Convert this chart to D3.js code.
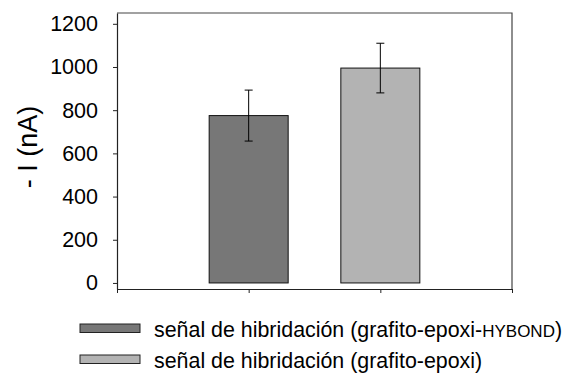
<!DOCTYPE html>
<html>
<head>
<meta charset="utf-8">
<script src="https://cdn.jsdelivr.net/npm/d3@7"></script>
<style>
  html, body { margin: 0; padding: 0; background: #fff; }
  svg { display: block; font-family: "Liberation Sans", Arial, sans-serif; }
</style>
</head>
<body>
<svg id="chart" width="570" height="373"></svg>
<script>
// Hybridisation signal, mean current with standard deviation
const categories = ["grafito-epoxi-HYBOND", "grafito-epoxi"];
const values = [775, 995];
const errors = [118, 115];
const yTicks = [0, 200, 400, 600, 800, 1000, 1200];
const legendMain = ["señal de hibridación (grafito-epoxi-", "señal de hibridación (grafito-epoxi)"];
const legendSmall = ["HYBOND", ""];
const legendTail = [")", ""];
const colors = ["#777777", "#b3b3b3"];

const svg = d3.select("#chart");
const margin = { left: 117, top: 13, right: 58, bottom: 84 };
const W = 570 - margin.left - margin.right;
const H = 373 - margin.top - margin.bottom;
const FONT = "'Liberation Sans', Arial, sans-serif";

const x = d3.scaleLinear().domain([0, categories.length + 1]).range([0, W]);
const y = d3.scaleLinear().domain([-28, 1250]).range([H, 0]);

const g = svg.append("g").attr("transform", `translate(${margin.left},${margin.top})`);

// bars
const barW = x(0.6) - x(0);
g.selectAll("rect.bar").data(values).join("rect")
  .attr("class", "bar")
  .attr("x", (d, i) => x(i + 1) - barW / 2)
  .attr("y", d => y(d))
  .attr("width", barW)
  .attr("height", d => y(0) - y(d))
  .attr("fill", (d, i) => colors[i])
  .attr("stroke", "#111")
  .attr("stroke-width", 1);

// error bars
const cap = 4;
const eb = g.selectAll("g.err").data(values).join("g").attr("class", "err")
  .attr("stroke", "#000").attr("stroke-width", 1);
eb.append("line")
  .attr("x1", (d, i) => x(i + 1)).attr("x2", (d, i) => x(i + 1))
  .attr("y1", (d, i) => y(d + errors[i])).attr("y2", (d, i) => y(d - errors[i]));
eb.append("line")
  .attr("x1", (d, i) => x(i + 1) - cap).attr("x2", (d, i) => x(i + 1) + cap)
  .attr("y1", (d, i) => y(d + errors[i])).attr("y2", (d, i) => y(d + errors[i]));
eb.append("line")
  .attr("x1", (d, i) => x(i + 1) - cap).attr("x2", (d, i) => x(i + 1) + cap)
  .attr("y1", (d, i) => y(d - errors[i])).attr("y2", (d, i) => y(d - errors[i]));

// frame: top and right edges
g.append("path")
  .attr("d", `M0,0H${W}V${H}`)
  .attr("fill", "none").attr("stroke", "#444").attr("stroke-width", 1.2);

// y axis
const yAxis = g.append("g")
  .call(d3.axisLeft(y).tickValues(yTicks).tickFormat(d3.format("d"))
    .tickSize(4).tickPadding(15).tickSizeOuter(0));
yAxis.attr("font-family", FONT).attr("font-size", 21.5);
yAxis.select(".domain").attr("stroke", "#222").attr("stroke-width", 1.2);
yAxis.selectAll(".tick line").attr("stroke", "#222");
yAxis.selectAll(".tick text").attr("fill", "#000");

// x axis (category ticks only)
const xAxis = g.append("g").attr("transform", `translate(0,${H})`)
  .call(d3.axisBottom(x).tickValues(d3.range(0, categories.length + 2)).tickSize(4).tickFormat("").tickSizeOuter(0));
xAxis.select(".domain").attr("stroke", "#222").attr("stroke-width", 1.2);
xAxis.selectAll(".tick line").attr("stroke", "#222");

// y axis title
svg.append("text")
  .attr("transform", "translate(37,147) rotate(-90)")
  .attr("text-anchor", "middle")
  .attr("font-size", 27)
  .attr("fill", "#000")
  .text("- I (nA)");

// legend
const lg = svg.append("g").attr("transform", "translate(80,324)");
const rowH = 31;
const rows = lg.selectAll("g").data(categories).join("g")
  .attr("transform", (d, i) => `translate(0,${i * rowH})`);
rows.append("rect")
  .attr("width", 60).attr("height", 8.5)
  .attr("fill", (d, i) => colors[i])
  .attr("stroke", "#222").attr("stroke-width", 1);
const txt = rows.append("text")
  .attr("x", 74).attr("y", 13)
  .attr("font-size", 21.4).attr("fill", "#000");
txt.append("tspan").text((d, i) => legendMain[i]);
txt.append("tspan").attr("font-size", 17).text((d, i) => legendSmall[i]);
txt.append("tspan").text((d, i) => legendTail[i]);
</script>
</body>
</html>
